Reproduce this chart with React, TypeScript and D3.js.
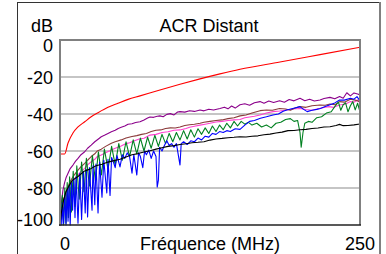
import React from "react";
import * as d3 from "d3";

const title = "ACR Distant";
const yUnit = "dB";
const xTitle = "Fréquence (MHz)";
const yTicks = [0, -20, -40, -60, -80, -100];
const xTickLabels = [0, 250];

// [frequency MHz, dB]
const redData: [number, number][] = [
  [0.8, -61.6], [3.9, -61.6], [6.7, -55.7], [10.8, -50.3], [15, -47], [20.6, -44.2], [26, -41.5],
  [31.7, -39.3], [40, -36.4], [48.3, -34.2], [56.7, -32.1], [66.7, -30.2], [83.3, -27], [100, -23.9],
  [116.7, -21], [133.3, -18.3], [150, -15.8], [183.3, -11.9], [216.7, -7.9], [250, -3.9],
];

const purpleData: [number, number][] = [
  [0.8, -90], [1.5, -86], [2.5, -81], [3.9, -77], [5, -74.5], [6.7, -72], [8.5, -69.5], [10.8, -67.6],
  [13, -65.5], [15, -64], [17.5, -62], [20.6, -60.4], [23, -58.5], [26, -56.8], [29, -55], [32, -53.5],
  [34.4, -52.3], [37, -51.5], [40, -50.5], [42.8, -49.6], [46, -48.8], [48.5, -47.8], [51, -47.2],
  [54, -46.5], [56.7, -45.5], [60, -45.3], [63, -44.6], [66.7, -44.2], [70, -43.2], [73, -42.2],
  [75, -41.6], [78, -41.8], [81, -41.2], [83.3, -41], [86, -41.5], [89, -40.2], [92, -39.8], [95, -40.5],
  [98, -38.9], [100, -38.7], [104, -39], [108, -38.2], [112, -38.6], [116.7, -37.8], [120, -38.3],
  [124, -37.4], [128, -37.8], [133.3, -37], [137, -36.3], [140, -37.2], [143, -35.7], [146, -36.8],
  [150, -35], [154, -34.5], [158, -35.3], [162, -33.9], [166.7, -33.3], [170, -34.2], [174, -33],
  [178, -33.8], [183, -32.8], [187, -33.6], [191, -32.2], [195, -32.9], [200, -31.5], [204, -32.8],
  [208, -32], [212, -33], [216.7, -32.4], [220, -31.6], [225, -31], [229, -31.8], [233, -30.6],
  [236, -31.5], [239, -28.5], [242, -30.2], [245, -28.6], [248, -29.2], [250, -29.7],
];

const brownData: [number, number][] = [
  [1, -95], [2, -90], [3, -86], [3.9, -84.7], [5, -82], [6.7, -79.3], [8.5, -76.5], [10.8, -73.9],
  [13, -72], [15, -70.3], [17.5, -68.5], [20.6, -66.7], [23, -65], [26, -63], [29, -61.5], [31, -60],
  [34.4, -59], [38, -57.5], [42.8, -55.8], [46, -55], [51, -54], [55, -53], [60, -52.2], [64, -51.7],
  [68, -51], [72, -50.5], [76, -49.5], [80, -48.8], [84, -48.6], [88, -47.8], [92, -47.5], [96, -47.6],
  [100, -47], [104, -46.2], [108, -45.8], [112, -45.5], [116.7, -45], [120, -44.5], [125, -44],
  [130, -43.5], [135, -43.2], [140, -42.5], [145, -42], [150, -41], [155, -40.5], [160, -39.5],
  [166.7, -38.2], [172, -37.8], [177, -38], [183, -37], [188, -37.3], [192, -38], [196, -36.8],
  [200, -36], [205, -36.4], [210, -35.5], [216.7, -35.1], [221, -35.3], [225, -34.6], [229, -35],
  [233, -33.3], [237, -33.6], [242, -32], [246, -32.5], [250, -33.3],
];

const pinkData: [number, number][] = [
  [2.5, -92], [3.9, -88], [5, -84.5], [6.7, -81], [8.5, -78], [10.8, -75.7], [13, -74.3], [15, -73],
  [17.5, -71], [20.6, -69.4], [23, -67.5], [26, -65.8], [29, -64.5], [31, -63], [34.4, -62.2], [38, -61],
  [42.8, -59.5], [46, -58.5], [51, -57.3], [55, -56], [58, -55.5], [62, -54.5], [66, -53.5], [70, -53.1],
  [75, -51.4], [80, -51], [85, -50], [90, -49.6], [95, -48.8], [100, -48.6], [105, -47.8], [108, -47.2],
  [112, -46.6], [116.7, -46], [121, -45.5], [125, -45], [130, -44.3], [135, -44], [140, -43.5],
  [145, -43.2], [150, -43], [154, -42], [158, -41.6], [162, -41.2], [166.7, -40.5], [172, -39.5],
  [177.5, -38.7], [183, -38.4], [189, -37.8], [194, -37.3], [200, -37], [205, -37.6], [210, -38],
  [215, -37.2], [220, -36.5], [224, -36], [228, -36.4], [233, -35.1], [238, -34.6], [242, -33.3],
  [245, -33.6], [248, -32.4], [250, -34.2],
];

const greenData: [number, number][] = [
  [1, -92], [2, -84], [3, -100], [4, -80], [5, -99], [6, -77], [7, -96], [8, -74], [9.5, -93], [11, -71],
  [12.5, -90], [14, -68], [16, -86], [18, -66], [20, -82], [22, -64], [24.5, -79], [27, -62.5],
  [29.5, -76], [32, -60.5], [34.5, -73], [37, -59], [40, -70], [43, -57.5], [46, -67.5], [49, -56],
  [52, -65], [55, -55], [58, -63], [61, -54], [64, -61.5], [67, -53], [70, -60], [73, -52.5],
  [76, -58.5], [79, -51.5], [82, -57.5], [85, -51], [88, -56], [91, -50.5], [94, -55], [97, -50],
  [100, -54], [103, -49], [106, -53.5], [109, -48.5], [112, -52.5], [115, -48], [118, -51], [121, -47.5],
  [124, -50.5], [127, -46.5], [130, -49.5], [133, -46], [136, -48.5], [139, -45], [142, -47.5],
  [145, -44], [148, -46.5], [151, -44], [154, -45.5], [157, -44.5], [160, -46], [164, -45], [168, -47],
  [172, -46], [176, -47.5], [180, -45], [184, -44.5], [188, -43], [192, -42.5], [195, -44], [198, -43.5],
  [200, -50], [201, -58], [202.5, -50], [204, -45], [207, -44], [210, -44.5], [214, -42], [218, -41.5],
  [222, -39.5], [226, -38.8], [229, -36], [232, -33.5], [234, -38], [236, -35], [238, -34], [240, -38.8],
  [242, -35.5], [244, -33.3], [246, -37.8], [248, -34.2], [250, -38.8],
];

const blueData: [number, number][] = [
  [0.5, -97], [1, -92], [1.5, -100], [2, -88], [3, -99], [4, -84], [5, -100], [6, -81], [6.7, -98],
  [7.5, -79], [8.5, -100], [9.5, -77], [10.5, -92], [11.5, -75], [12.5, -96], [13.5, -74], [15, -99],
  [16.5, -72], [18, -97], [19.5, -71], [21, -93.5], [22, -70], [23, -95.7], [24.5, -69], [26.7, -92],
  [27.5, -68], [29, -89], [30, -67], [31.7, -93.5], [33, -66], [35, -85], [36.5, -65], [39, -82.7],
  [40, -64.5], [41.7, -84], [43, -63.5], [44.5, -66], [46, -69], [47.5, -62.5], [50, -68.6], [52, -62],
  [54, -64], [56, -61], [58, -63], [60, -72], [61.5, -62], [64, -73], [65.5, -61], [67, -63], [69, -69],
  [70.5, -60], [72, -62], [74, -59.5], [76, -64], [78, -60], [80, -63], [81, -79.5], [82, -75.7],
  [83, -58], [85, -60], [87, -57], [89, -54.5], [91, -57], [93, -56], [95, -58], [97, -56], [100, -67.6],
  [101, -56], [103, -55], [106, -56.5], [109, -54.5], [112, -55], [115, -53], [118, -54], [121, -52],
  [124, -52.5], [127, -50.5], [130, -51], [133, -49.5], [136, -50], [139, -49], [142, -49.5], [146, -48],
  [150, -48.3], [154, -46], [158, -44], [162, -43.5], [167, -42.3], [172, -41.5], [177.5, -40.5],
  [182, -40], [186, -38.5], [189, -37.8], [194, -37], [200, -36], [203, -37.5], [206, -38.7], [210, -38],
  [214, -37.5], [217, -37], [221, -36], [225, -35], [229, -34], [233, -32.4], [237, -32.5], [242, -31.5],
  [245, -32], [247.5, -30.6], [250, -33],
];

const blackData: [number, number][] = [
  [0.5, -97], [1, -94], [2, -90], [3, -86.5], [5, -82], [7, -79.5], [10, -76], [15, -73.8], [20, -71],
  [25, -69.8], [30, -68], [35, -67.2], [40, -66], [45, -65.2], [50, -64.5], [55, -63.2], [60, -62],
  [65, -61.4], [70, -60.5], [75, -59.9], [80, -59], [85, -58.2], [90, -57.5], [95, -57.1], [100, -56.5],
  [105, -56.1], [110, -55.5], [115, -55.3], [120, -55], [125, -54.1], [130, -53.5], [135, -53.2],
  [140, -52.8], [145, -52.6], [150, -52.3], [155, -52.4], [160, -52], [165, -51.8], [170, -51.2],
  [175, -50.9], [180, -50.3], [185, -49.8], [190, -49], [195, -48.9], [200, -48.5], [205, -48.3],
  [210, -47.8], [215, -47.6], [220, -47], [225, -46.9], [230, -46.2], [233, -45.6], [236, -46.3],
  [240, -46.2], [245, -45.9], [250, -45.4],
];

const series = [
  { data: pinkData, color: "#ff40d0", smooth: false },
  { data: brownData, color: "#8b3a3a", smooth: false },
  { data: purpleData, color: "#8b008b", smooth: false },
  { data: greenData, color: "#008020", smooth: false },
  { data: blueData, color: "#0000ff", smooth: false },
  { data: blackData, color: "#000000", smooth: false },
  { data: redData, color: "#ff0000", smooth: true },
];

const W = 386;
const H = 254;
const left = 60;
const right = 360;
const top = 40;
const bottom = 225;
const font = "'Liberation Sans', Arial, Helvetica, sans-serif";

export default function App() {
  const x = d3.scaleLinear().domain([0, 250]).range([left, right]);
  const y = d3.scaleLinear().domain([-100, 0]).range([bottom, top]);
  const line = d3
    .line<[number, number]>()
    .x((d) => x(d[0]))
    .y((d) => y(d[1]));
  const smoothLine = d3
    .line<[number, number]>()
    .x((d) => x(d[0]))
    .y((d) => y(d[1]))
    .curve(d3.curveMonotoneX);

  return (
    <svg
      width={W}
      height={H}
      style={{ position: "absolute", left: 0, top: 0, background: "#fff" }}
      fontFamily={font}
    >
      <defs>
        <clipPath id="plot">
          <rect x={left} y={top} width={right - left} height={bottom - top + 1} />
        </clipPath>
      </defs>
      {/* outer panel */}
      <line x1={17.5} y1={2.5} x2={380} y2={2.5} stroke="#333" strokeWidth={1} />
      <line x1={17.5} y1={2} x2={17.5} y2={H} stroke="#333" strokeWidth={1} />
      <line x1={380} y1={2} x2={380} y2={H} stroke="#808080" strokeWidth={2} />

      {/* gridlines */}
      {yTicks.slice(1, -1).map((t) => (
        <line key={t} x1={left} x2={right} y1={y(t)} y2={y(t)} stroke="#8c8c8c" strokeWidth={1.2} />
      ))}

      <g clipPath="url(#plot)" fill="none">
        {series.map((s, i) => (
          <path
            key={i}
            d={(s.smooth ? smoothLine : line)(s.data) || ""}
            stroke={s.color}
            strokeWidth={1.1}
            strokeLinejoin="round"
          />
        ))}
      </g>

      {/* frame */}
      <line x1={left} x2={right} y1={top} y2={top} stroke="#808080" strokeWidth={2} />
      <line x1={right} x2={right} y1={top - 1} y2={bottom} stroke="#808080" strokeWidth={2} />
      <line x1={left} x2={left} y1={top - 1} y2={bottom + 1} stroke="#808080" strokeWidth={2} />
      <line x1={left - 1} x2={right + 1} y1={bottom} y2={bottom} stroke="#222" strokeWidth={1.5} />

      {/* y tick labels */}
      {yTicks.map((t) => {
        const base = Math.min(Math.max(y(t) + 6.5, top + 12), bottom + 1);
        return (
          <text key={t} x={53} y={base} textAnchor="end" fontSize={18} fill="#000">
            {t}
          </text>
        );
      })}
      <text x={53} y={32} textAnchor="end" fontSize={18} fill="#000">
        {yUnit}
      </text>
      <text x={209} y={32} textAnchor="middle" fontSize={18} fill="#000">
        {title}
      </text>

      {/* x labels */}
      <text x={x(xTickLabels[0])} y={250} textAnchor="start" fontSize={18} fill="#000">
        {xTickLabels[0]}
      </text>
      <text x={x(xTickLabels[1]) + 15} y={250} textAnchor="end" fontSize={18} fill="#000">
        {xTickLabels[1]}
      </text>
      <text x={210} y={250} textAnchor="middle" fontSize={18} fill="#000">
        {xTitle}
      </text>
    </svg>
  );
}
